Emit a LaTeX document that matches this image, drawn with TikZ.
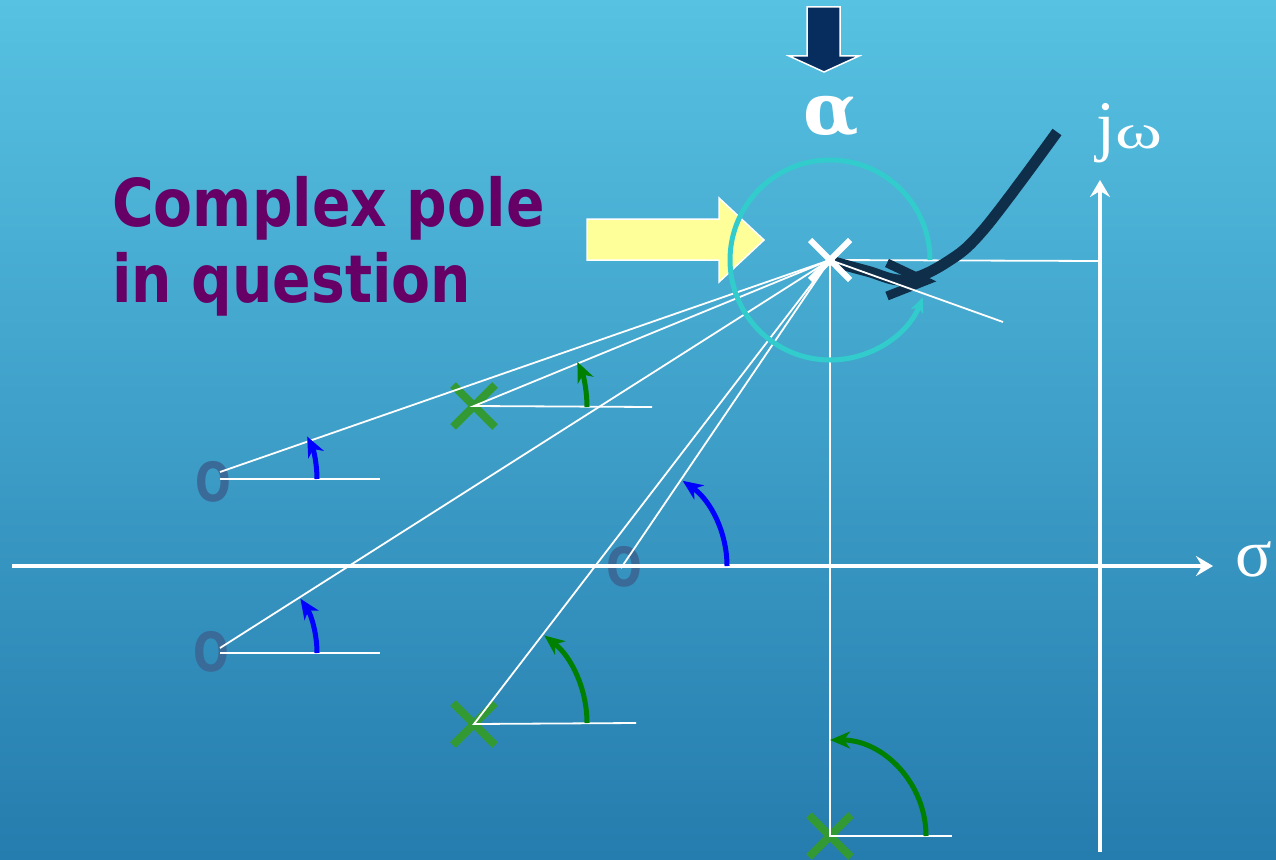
\documentclass[tikz,border=0pt]{standalone}
\usepackage{fontspec}
\setmainfont{Liberation Serif}
\newfontfamily\titlefont{DejaVu Sans}
\newfontfamily\greekfont{Liberation Serif}
\newfontfamily\alphafont{DejaVu Serif}
\usetikzlibrary{arrows.meta,shapes.misc}
\definecolor{bgtop}{HTML}{57C2E2}
\definecolor{bgbot}{HTML}{257CAE}
\definecolor{navyfill}{HTML}{062D5E}
\definecolor{curvecol}{HTML}{0F2E4A}
\definecolor{titlecol}{HTML}{660066}
\definecolor{zerocol}{HTML}{3A6A97}
\definecolor{polegreen}{HTML}{339933}
\definecolor{arcgreen}{HTML}{008000}
\definecolor{arcblue}{HTML}{0000FF}
\definecolor{ringcol}{HTML}{33CCCC}
\definecolor{yelfill}{HTML}{FFFF99}
\tikzset{
  thinw/.style={draw=white, line width=1.8pt},
  axisw/.style={draw=white, line width=4pt, -{Stealth[length=17pt,width=20pt,inset=6pt]}},
  tipst/.style={-{Stealth[length=20pt,width=17pt,inset=6pt]}},
  arcB/.style={draw=arcblue, line width=5pt, tipst},
  arcG/.style={draw=arcgreen, line width=5pt, tipst},
  gx/.style={cross out, draw=polegreen, line width=8pt, minimum size=34pt, inner sep=0pt},
  wx/.style={cross out, draw=white, line width=6pt, minimum size=34pt, inner sep=0pt},
  zero/.style={text=zerocol, inner sep=0pt, font=\titlefont\bfseries\fontsize{54}{54}\selectfont},
  title/.style={text=titlecol, inner sep=0pt, anchor=base west, font=\titlefont\bfseries\fontsize{66}{70}\selectfont},
  bigarrow/.style={draw=white, line width=1.5pt},
}
\begin{document}
\begin{tikzpicture}[x=1pt,y=-1pt]
\shade[top color=bgtop,bottom color=bgbot] (0,0) rectangle (1276,859);
\useasboundingbox (0,0) rectangle (1276,859);

% coordinates
\coordinate (P) at (830,260);
\coordinate (z1a) at (220,472);
\coordinate (z1b) at (220,479);
\coordinate (z1e) at (380,479);
\coordinate (z3a) at (220,648);
\coordinate (z3b) at (220,653);
\coordinate (z3e) at (380,653);
\coordinate (z2a) at (621,568);
\coordinate (p1e) at (652,407);
\coordinate (p2e) at (636,723);
\coordinate (p3e) at (952,836);
\coordinate (jh) at (1100,261);
\coordinate (dep) at (1003,322);

% yellow arrow
\path[bigarrow, fill=yelfill] (587,219) -- (719,219) -- (719,198) -- (764,240) -- (719,282) -- (719,260) -- (587,260) -- cycle;
% navy down arrow
\path[bigarrow, fill=navyfill] (807,7) -- (840,7) -- (840,56) -- (859,56) -- (824,72) -- (789,56) -- (807,56) -- cycle;

% green poles
\node[gx] (p1) at (474,406) {};
\node[gx] (p2) at (474,724) {};
\node[gx] (p3) at (830,836) {};

% zeros
\node[zero] (z1) at (213,482) {\scalebox{0.78}[1]{O}};
\node[zero] (z2) at (624,567) {\scalebox{0.78}[1]{O}};
\node[zero] (z3) at (211,652) {\scalebox{0.78}[1]{O}};

% axes
\draw[axisw] (12,566) -- (1213,566);
\draw[axisw] (1100,852) -- (1100,180);

% thin lines
\draw[thinw] (P) -- (z1a);
\draw[thinw] (z1b) -- (z1e);
\draw[thinw] (P) -- (p1.center) -- (p1e);
\draw[thinw] (P) -- (z3a);
\draw[thinw] (z3b) -- (z3e);
\draw[thinw] (P) -- (p2.center) -- (p2e);
\draw[thinw] (P) -- (z2a);
\draw[thinw] (P) -- (p3.center) -- (p3e);
\draw[thinw] (P) -- (jh);

% cyan ring
\draw[draw=ringcol, line width=5pt, -{Stealth[length=15pt,width=13pt,inset=4pt]}] (930,260) arc[start angle=0, end angle=-338, radius=100];

% dark curve and chevron
\draw[curvecol, line width=11pt] plot[smooth, tension=0.6] coordinates {(834,262) (867,271) (905,280) (947,262) (985,228) (1057,132)};
\draw[curvecol, line width=9pt, line join=miter] (887,263) -- (925,281) -- (887,296);
\draw[thinw] (P) -- (dep);

% main pole
\node[wx] (pm) at (P) {};

% angle arcs
\draw[arcB] (317,479) arc[start angle=0, end angle=-26, radius=97];
\draw[arcG] (587,407) arc[start angle=0, end angle=-24, radius=111];
\draw[arcB] (727,566) arc[start angle=0, end angle=-55, radius=104];
\draw[arcB] (317,653) arc[start angle=0, end angle=-34, radius=97];
\draw[arcG] (587,723) arc[start angle=0, end angle=-52, radius=111];
\draw[arcG] (926,836) arc[start angle=0, end angle=-90, radius=96];

% texts
\node[title] (t1) at (112,226) {\scalebox{0.86}[1]{Complex pole}};
\node[title] (t2) at (112,302) {\scalebox{0.86}[1]{in question}};
\node[text=white, inner sep=0pt, font=\alphafont\bfseries\fontsize{72}{72}\selectfont] (alpha) at (831,117) {α};
\node[text=white, inner sep=0pt, anchor=base west, font=\greekfont\fontsize{68}{70}\selectfont] (jw) at (1096,148) {j\scalebox{1.05}[0.72]{ω}};
\node[text=white, inner sep=0pt, font=\greekfont\fontsize{68}{68}\selectfont] (sig) at (1254,559) {σ};
\end{tikzpicture}
\end{document}
